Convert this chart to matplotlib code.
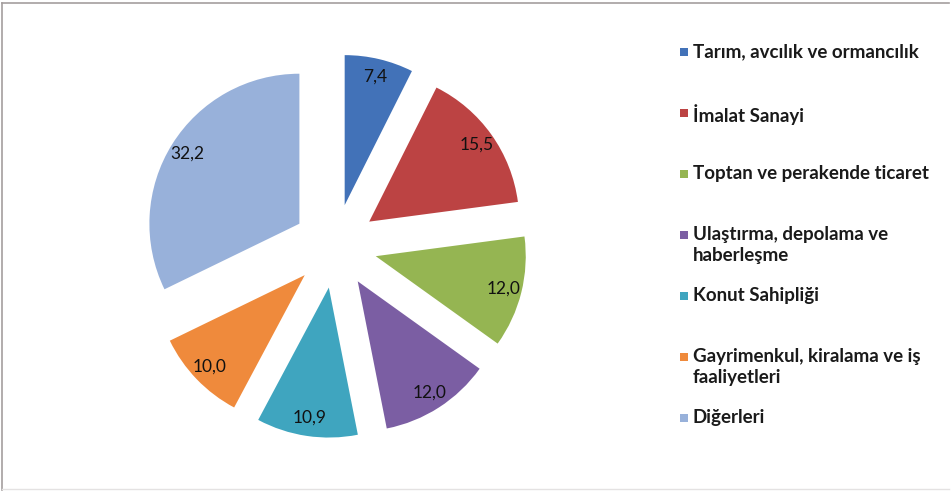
import matplotlib
matplotlib.use("Agg")
import matplotlib.pyplot as plt
from matplotlib.patches import Rectangle
from matplotlib.lines import Line2D

# data
categories = [
    "Tarım, avcılık ve ormancılık",
    "İmalat Sanayi",
    "Toptan ve perakende ticaret",
    "Ulaştırma, depolama ve\nhaberleşme",
    "Konut Sahipliği",
    "Gayrimenkul, kiralama ve iş\nfaaliyetleri",
    "Diğerleri",
]
values = [7.4, 15.5, 12.0, 12.0, 10.9, 10.0, 32.2]
colors = ["#4272b8", "#bc4343", "#95b552", "#7b5ea3", "#3fa5bf", "#ef8a3c", "#98b1da"]

W, H = 951, 492
fig = plt.figure(figsize=(W / 100, H / 100), dpi=100)
fig.patch.set_facecolor("white")

# pie axes: 1 data unit = 150 px, centre at (335, 246) px from top-left
cx, cy, r_px, half = 335, 246, 150, 200
ax = fig.add_axes([(cx - half) / W, (H - cy - half) / H, 2 * half / W, 2 * half / H])
ax.set_aspect("equal")
ax.axis("off")

wedges, texts, autotexts = ax.pie(
    values,
    colors=colors,
    startangle=90,
    counterclock=False,
    explode=[0.28] * len(values),
    radius=1.0,
    autopct=lambda p: f"{p:.1f}".replace(".", ","),
    pctdistance=0.88,
    wedgeprops=dict(linewidth=0),
    textprops=dict(fontsize=12.5, color="#111111", family="Lato"),
    frame=False,
)
ax.set_xlim(-half / r_px, half / r_px)
ax.set_ylim(-half / r_px, half / r_px)

# legend, drawn entry by entry
lx, ly0, step = 680, 52, 61
for i, (lab, col) in enumerate(zip(categories, colors)):
    y = ly0 + i * step
    fig.patches.append(Rectangle((lx / W, (H - y - 4) / H), 8 / W, 8 / H,
                                 transform=fig.transFigure, facecolor=col,
                                 edgecolor="none"))
    fig.text((lx + 13) / W, (H - y + 9) / H, lab, ha="left", va="top",
             fontsize=13.5, family="Lato", fontweight="bold", color="#1a1a1a",
             linespacing=1.3)

# chart border
fig.add_artist(Line2D([2 / W, 2 / W], [2 / H, 1 - 3 / H], transform=fig.transFigure,
                      color="#a49e9e", linewidth=1.2))
fig.add_artist(Line2D([2 / W, 1 - 2 / W], [1 - 3 / H, 1 - 3 / H], transform=fig.transFigure,
                      color="#a49e9e", linewidth=1.2))
fig.add_artist(Line2D([2 / W, 1 - 2 / W], [3 / H, 3 / H], transform=fig.transFigure,
                      color="#e4e2e2", linewidth=1.0))

fig.savefig("out.png", dpi=100, facecolor="white")
